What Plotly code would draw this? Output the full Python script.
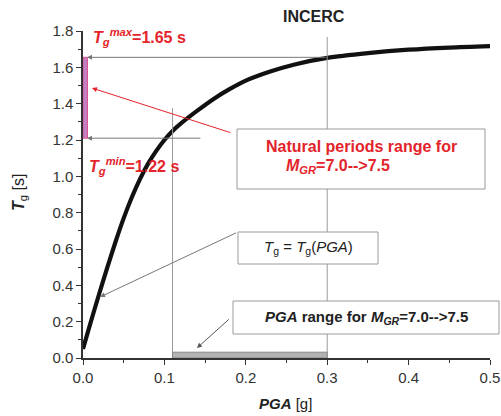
import plotly.graph_objects as go

# ---- data ----
pga = [0.0, 0.01, 0.02, 0.03, 0.04, 0.05, 0.06, 0.07, 0.08, 0.09, 0.10, 0.11,
       0.12, 0.14, 0.16, 0.18, 0.20, 0.23, 0.26, 0.30, 0.35, 0.40, 0.45, 0.50]
tg = [0.05, 0.205, 0.355, 0.50, 0.64, 0.77, 0.885, 0.985, 1.07, 1.14, 1.20, 1.25,
      1.29, 1.36, 1.425, 1.48, 1.527, 1.577, 1.616, 1.652, 1.678, 1.697, 1.709, 1.717]
pga_range = [0.11, 0.30]          # PGA range for M_GR 7.0 -> 7.5
tg_range = [1.21, 1.655]          # natural period range
x_ticks = [0.0, 0.1, 0.2, 0.3, 0.4, 0.5]
y_ticks = [0.0, 0.2, 0.4, 0.6, 0.8, 1.0, 1.2, 1.4, 1.6, 1.8]

W, H = 501, 416
L, R, T, B = 83, 11, 31, 58
PW, PH = W - L - R, H - T - B


def fx(px):
    return (px - L) / PW


def fy(py):
    return (H - B - py) / PH


RED = "#e3242b"
GRAY = "#9a9a9a"
FONT = "Liberation Sans, Arial, sans-serif"

fig = go.Figure()
fig.add_trace(go.Scatter(x=pga, y=tg, mode="lines",
                         line=dict(color="#111111", width=4.2, shape="spline", smoothing=0.8),
                         hoverinfo="skip", showlegend=False))

shapes = [
    # vertical guide lines
    dict(type="line", xref="x", yref="y", x0=pga_range[0], x1=pga_range[0],
         y0=0, y1=1.376, line=dict(color=GRAY, width=1)),
    dict(type="line", xref="x", yref="y", x0=pga_range[1], x1=pga_range[1],
         y0=0, y1=1.767, line=dict(color=GRAY, width=1)),
    # PGA range bar
    dict(type="rect", xref="x", yref="y", x0=pga_range[0], x1=pga_range[1],
         y0=0, y1=0.032, fillcolor="#b3b3b3", line=dict(color="#888888", width=1)),
    # Tg range bar
    dict(type="rect", xref="x", yref="y", x0=0, x1=0.0055,
         y0=tg_range[0], y1=tg_range[1], fillcolor="#c47fc6",
         line=dict(color="#e0508a", width=1)),
    # boxes
    dict(type="rect", xref="paper", yref="paper", x0=fx(237), x1=fx(485),
         y0=fy(189), y1=fy(129), fillcolor="white", line=dict(color=GRAY, width=1)),
    dict(type="rect", xref="paper", yref="paper", x0=fx(238), x1=fx(378),
         y0=fy(264), y1=fy(232), fillcolor="white", line=dict(color=GRAY, width=1)),
    dict(type="rect", xref="paper", yref="paper", x0=fx(233), x1=fx(499),
         y0=fy(334), y1=fy(301), fillcolor="white", line=dict(color=GRAY, width=1)),
]

ann = []
# horizontal guide lines with arrows at the axis
ann.append(dict(x=0, y=tg_range[1], ax=pga_range[1], ay=tg_range[1], xref="x", yref="y",
                axref="x", ayref="y", text="", showarrow=True, arrowhead=2, arrowsize=1,
                arrowwidth=1, arrowcolor="#777777", standoff=4))
ann.append(dict(x=0, y=tg_range[0], ax=0.146, ay=tg_range[0], xref="x", yref="y",
                axref="x", ayref="y", text="", showarrow=True, arrowhead=2, arrowsize=1,
                arrowwidth=1, arrowcolor="#777777", standoff=4))
# pointer arrows
ann.append(dict(x=0.011, y=1.486, ax=0.183, ay=1.238, xref="x", yref="y",
                axref="x", ayref="y", text="", showarrow=True, arrowhead=2, arrowsize=1,
                arrowwidth=1, arrowcolor=RED))
ann.append(dict(x=0.021, y=0.336, ax=0.190, ay=0.693, xref="x", yref="y",
                axref="x", ayref="y", text="", showarrow=True, arrowhead=2, arrowsize=1,
                arrowwidth=1, arrowcolor="#777777"))
ann.append(dict(x=0.140, y=0.055, ax=0.181, ay=0.22, xref="x", yref="y",
                axref="x", ayref="y", text="", showarrow=True, arrowhead=2, arrowsize=1,
                arrowwidth=1, arrowcolor="#555555"))


# texts
def txt(px, py, text, size, color="#222222", xanchor="center", angle=0):
    ann.append(dict(x=fx(px), y=fy(py), xref="paper", yref="paper", text=text,
                    showarrow=False, xanchor=xanchor, yanchor="middle",
                    textangle=angle, font=dict(family=FONT, size=size, color=color)))


txt(314, 17, "<b>INCERC</b>", 16, "#222222")
txt(91, 37, "<b><i>T</i></b><sub><b><i>g</i></b></sub><sup><b><i>max</i></b></sup><b>=1.65 s</b>",
    16, RED, xanchor="left")
txt(87, 166, "<b><i>T</i></b><sub><b><i>g</i></b></sub><sup><b><i>min</i></b></sup><b>=1.22 s</b>",
    16, RED, xanchor="left")
txt(361, 146, "<b>Natural periods range for</b>", 16, RED)
txt(284, 166, "<b><i>M</i></b><sub><b><i>GR</i></b></sub><b>=7.0--&gt;7.5</b>", 16, RED,
    xanchor="left")
txt(308, 248, "<i>T</i><sub>g</sub> = <i>T</i><sub>g</sub>(<i>PGA</i>)", 15, "#222222")
txt(366, 317, "<b><i>PGA</i> range for <i>M</i></b><sub><b><i>GR</i></b></sub><b>=7.0--&gt;7.5</b>",
    15, "#222222")
txt(285, 403, "<b><i>PGA</i></b> [g]", 15, "#222222")
txt(19, 193, "<b><i>T</i></b><sub>g</sub> [s]", 16, "#222222", angle=-90)

axis_common = dict(showgrid=False, zeroline=False, showline=True, linecolor="#333333",
                   linewidth=1.5, ticks="outside", ticklen=5, tickwidth=1.3,
                   tickcolor="#333333", tickfont=dict(family=FONT, size=15, color="#333333"),
                   fixedrange=True)

fig.update_layout(
    width=W, height=H,
    margin=dict(l=L, r=R, t=T, b=B, autoexpand=False),
    paper_bgcolor="white", plot_bgcolor="white",
    xaxis=dict(range=[0, 0.5], tickvals=x_ticks, ticktext=[f"{v:.1f}" for v in x_ticks],
               minor=dict(dtick=0.05, ticks="outside", ticklen=3, tickcolor="#333333"),
               **axis_common),
    yaxis=dict(range=[0, 1.8], tickvals=y_ticks, ticktext=[f"{v:.1f}" for v in y_ticks],
               minor=dict(dtick=0.1, ticks="outside", ticklen=3, tickcolor="#333333"),
               **axis_common),
    shapes=shapes,
    annotations=ann,
    showlegend=False,
)

fig.write_html("out.html", config={"displayModeBar": False})
